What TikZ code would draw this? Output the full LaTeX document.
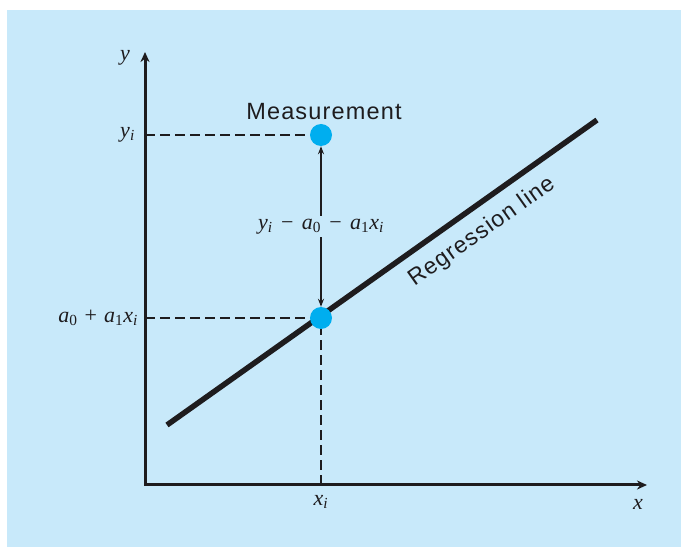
\documentclass[tikz,border=0pt]{standalone}
\usepackage{fontspec}
\setmainfont{Liberation Serif}
\newfontfamily\labsans[LetterSpace=5]{Liberation Sans}
\usetikzlibrary{arrows.meta}
\definecolor{bgblue}{RGB}{200,233,250}
\definecolor{dotblue}{RGB}{0,174,239}
\definecolor{ink}{RGB}{30,28,30}
\newcommand{\msub}[1]{\textsubscript{#1}}
\newcommand{\mminus}{\hspace{0.38em}−\hspace{0.38em}}
\newcommand{\mplus}{\hspace{0.32em}+\hspace{0.32em}}
\begin{document}
\begin{tikzpicture}[x=1pt,y=1pt,
  axis/.style={line width=3pt, draw=ink, {Stealth[length=10pt,width=9pt]}-{Stealth[length=10pt,width=9pt]}},
  guide/.style={line width=1.8pt, draw=ink, dash pattern=on 10pt off 5pt},
  dot/.style={circle, fill=dotblue, minimum size=22pt, inner sep=0pt},
  lab/.style={font=\fontsize{22}{26}\selectfont, text=ink, inner sep=1pt},
  slab/.style={font=\labsans\fontsize{23}{28}\selectfont, text=ink, inner sep=1pt},
  mlab/.style={font=\labsans\fontsize{23.5}{28}\selectfont, text=ink, inner sep=1pt},
  resid/.style={line width=1.5pt, draw=ink, {Stealth[length=8pt,width=6pt]}-{Stealth[length=8pt,width=6pt]}},
  regline/.style={line width=5.5pt, draw=ink}]
\useasboundingbox (0,0) rectangle (681,547);
\fill[bgblue] (7,0) rectangle (681,537);
% axes
\coordinate (O) at (145,62);
\coordinate (ytop) at (145,495);
\coordinate (xend) at (647,62);
\draw[axis] (ytop) -- (O) -- (xend);
% points
\coordinate (measpos) at (321,412);
\coordinate (fitpos) at (321,229);
% guides
\draw[guide] (O |- measpos) -- (measpos);
\draw[guide] (O |- fitpos) -- (fitpos);
\draw[guide] (O -| fitpos) -- (fitpos);
% regression line
\coordinate (r1) at (167,122);
\coordinate (r2) at (597,427);
\draw[regline] (r1) -- (r2);
\node[slab, rotate=35.3] (reglab) at (482,315) {Regression line};
% dots
\node[dot] (meas) at (measpos) {};
\node[dot] (fit) at (fitpos) {};
\draw[resid] (meas.south) -- node[lab, fill=bgblue, inner sep=3pt] (res) {\textit{y}\msub{\textit{i}}\mminus\textit{a}\msub{0}\mminus\textit{a}\msub{1}\textit{x}\msub{\textit{i}}} (fit.north);
% labels
\node[mlab] (measlab) at (324,435) {Measurement};
\node[lab] (ylab) at (125,489) {\textit{y}};
\node[lab] (xlab) at (638,43) {\textit{x}};
\node[lab, anchor=east] (yilab) at (136,412) {\textit{y}\msub{\textit{i}}};
\node[lab, anchor=east] (fitlab) at (139,229) {\textit{a}\msub{0}\mplus\textit{a}\msub{1}\textit{x}\msub{\textit{i}}};
\node[lab] (xilab) at (321,45) {\textit{x}\msub{\textit{i}}};
\end{tikzpicture}
\end{document}
